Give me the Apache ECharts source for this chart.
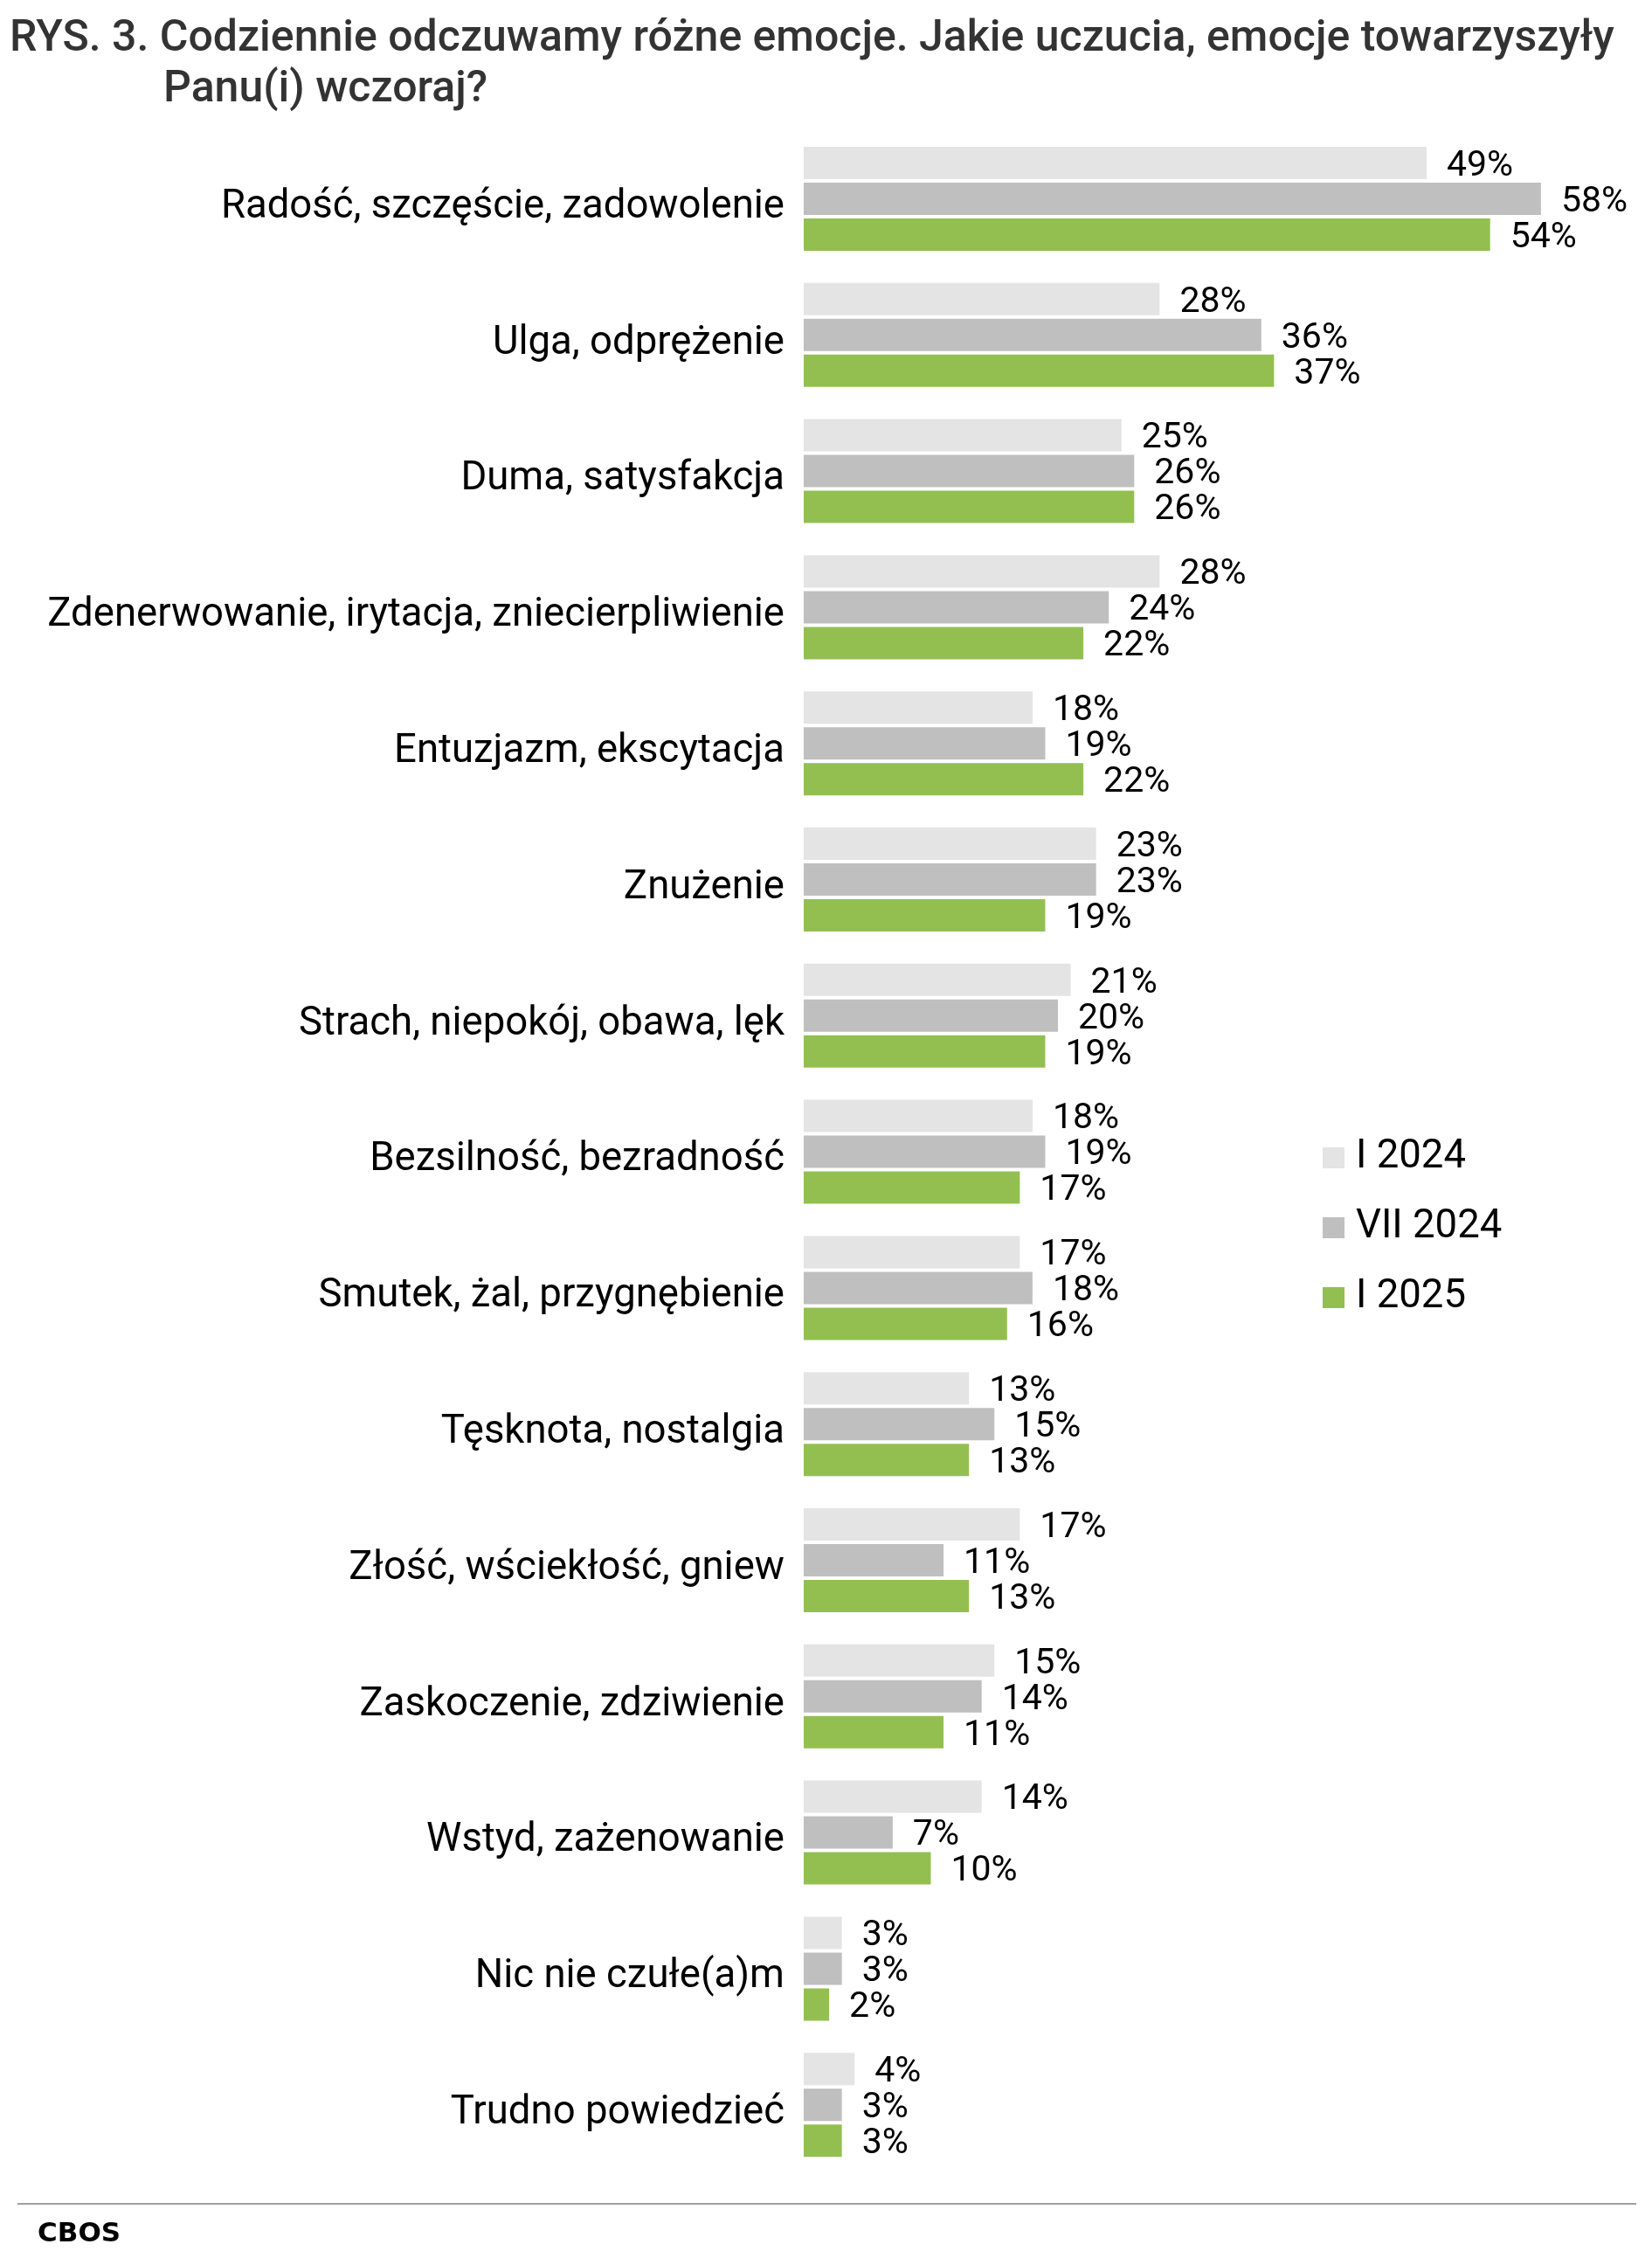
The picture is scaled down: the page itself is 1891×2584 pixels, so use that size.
<!DOCTYPE html>
<html>
<head>
<meta charset="utf-8">
<script src="https://cdn.jsdelivr.net/npm/echarts@6/dist/echarts.min.js"></script>
<style>
html,body{margin:0;padding:0;background:#fff;}
#chart{width:1891px;height:2584px;}
</style>
</head>
<body>
<div id="chart"></div>
<script>
const categories = [
  'Radość, szczęście, zadowolenie',
  'Ulga, odprężenie',
  'Duma, satysfakcja',
  'Zdenerwowanie, irytacja, zniecierpliwienie',
  'Entuzjazm, ekscytacja',
  'Znużenie',
  'Strach, niepokój, obawa, lęk',
  'Bezsilność, bezradność',
  'Smutek, żal, przygnębienie',
  'Tęsknota, nostalgia',
  'Złość, wściekłość, gniew',
  'Zaskoczenie, zdziwienie',
  'Wstyd, zażenowanie',
  'Nic nie czułe(a)m',
  'Trudno powiedzieć'
];
const seriesNames = ['I 2024', 'VII 2024', 'I 2025'];
const valuesI2024   = [49, 28, 25, 28, 18, 23, 21, 18, 17, 13, 17, 15, 14, 3, 4];
const valuesVII2024 = [58, 36, 26, 24, 19, 23, 20, 19, 18, 15, 11, 14, 7, 3, 3];
const valuesI2025   = [54, 37, 26, 22, 22, 19, 19, 17, 16, 13, 13, 11, 10, 2, 3];
const colors = ['#e4e4e4', '#bfbfbf', '#93bf51'];

const allValues = [valuesI2024, valuesVII2024, valuesI2025];
const chart = echarts.init(document.getElementById('chart'), null, {renderer: 'canvas'});

const series = seriesNames.map((name, i) => ({
  name: name,
  type: 'bar',
  data: allValues[i],
  barWidth: 37,
  barGap: '10.8%',
  itemStyle: {color: colors[i]},
  label: {
    show: true,
    position: 'right',
    distance: 23,
    offset: [0, 4],
    formatter: '{c}%',
    fontFamily: 'Roboto',
    fontSize: 41,
    color: '#000'
  },
  emphasis: {disabled: true},
  animation: false
}));

chart.setOption({
  animation: false,
  backgroundColor: '#ffffff',
  title: [
    {
      text: 'RYS. 3. Codziennie odczuwamy różne emocje. Jakie uczucia, emocje towarzyszyły',
      left: 11, top: 20,
      padding: 0,
      textStyle: {fontFamily: 'Roboto', fontWeight: 500, fontSize: 50, color: '#333333', lineHeight: 50}
    },
    {
      text: 'Panu(i) wczoraj?',
      left: 187, top: 78,
      padding: 0,
      textStyle: {fontFamily: 'Roboto', fontWeight: 500, fontSize: 50, color: '#333333', lineHeight: 50}
    }
  ],
  legend: {
    orient: 'vertical',
    left: 1509,
    top: 1292,
    icon: 'rect',
    itemWidth: 25,
    itemHeight: 24,
    itemGap: 24,
    data: seriesNames,
    selectedMode: false,
    textStyle: {fontFamily: 'Roboto', fontSize: 45.5, color: '#000', lineHeight: 56, padding: [0, 0, 0, 8]}
  },
  grid: {
    left: 920,
    right: 98,
    top: 149.6,
    height: 2337,
    containLabel: false
  },
  xAxis: {
    type: 'value',
    min: 0,
    max: 60,
    show: false,
    splitLine: {show: false}
  },
  yAxis: {
    type: 'category',
    data: categories,
    inverse: true,
    axisLine: {show: false},
    axisTick: {show: false},
    axisLabel: {fontFamily: 'Roboto', fontSize: 45.5, color: '#000', margin: 22, verticalAlign: 'top', lineHeight: 20}
  },
  series: series,
  graphic: [
    {
      type: 'line',
      shape: {x1: 20, y1: 2522, x2: 1873, y2: 2522},
      style: {stroke: '#a0a0a0', lineWidth: 2}
    },
    {
      type: 'text',
      left: 43,
      top: 2541,
      style: {text: 'CBOS', font: 'bold 31px "DejaVu Sans"', fill: '#000'}
    }
  ]
});
</script>
</body>
</html>
